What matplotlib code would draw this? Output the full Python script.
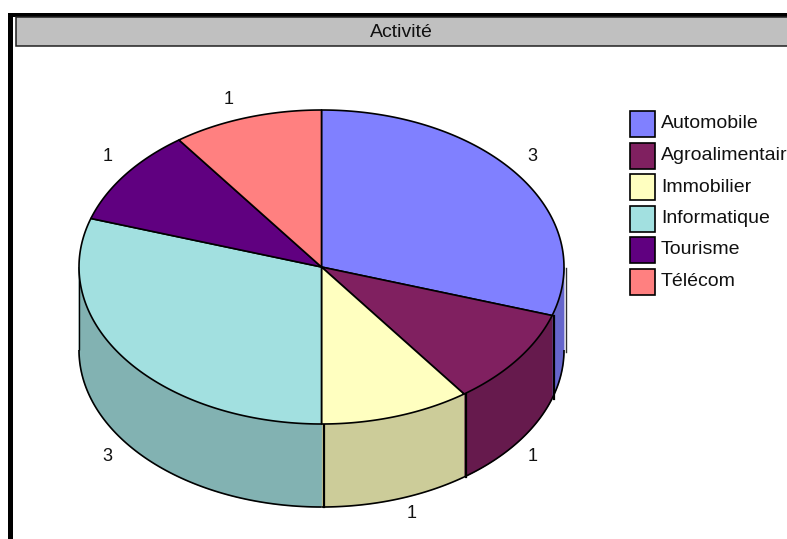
import numpy as np
import matplotlib
matplotlib.use('Agg')
import matplotlib.pyplot as plt
from matplotlib.patches import Polygon, Rectangle

names = ['Automobile', 'Agroalimentaire', 'Immobilier', 'Informatique', 'Tourisme', 'Télécom']
values = [3, 1, 1, 3, 1, 1]
top_colors = ['#8080FF', '#802060', '#FFFFC0', '#A2E0E0', '#600080', '#FF8080']
side_colors = ['#6666CC', '#661A4D', '#CCCC99', '#82B2B2', '#4D0066', '#CC6666']

plt.rcParams['font.family'] = ['Liberation Sans', 'DejaVu Sans']

# pie geometry, in pixels
cx, cy = 321.5, 267
rx, ry = 242.5, 157
depth = 83


def rim(theta, drop=0):
    # theta in degrees, clockwise from 12 o'clock
    t = np.radians(theta)
    return cx + rx * np.sin(t), cy - ry * np.cos(t) + drop


fig = plt.figure(figsize=(7.87, 5.39), dpi=100)
ax = fig.add_axes([0, 0, 1, 1])
ax.set_xlim(0, 787)
ax.set_ylim(539, 0)
ax.axis('off')

# outer frame and title bar
ax.add_patch(Rectangle((8, 13), 4.5, 530, fc='black', ec='none'))
ax.add_patch(Rectangle((8, 13), 790, 4, fc='black', ec='none'))
ax.add_patch(Rectangle((15.5, 17), 790, 29, fc='#C0C0C0', ec='#202020', lw=1.1))
ax.text(401, 32.5, 'Activité', ha='center', va='center', fontsize=14, color='#111111')

edges = np.cumsum([0] + values) / sum(values) * 360

# side walls, only the front half of the cylinder shows
for i in range(len(values)):
    a = max(edges[i], 90)
    b = min(edges[i + 1], 270)
    if a >= b:
        continue
    th = np.linspace(a, b, 80)
    xs, ys = rim(th)
    xb, yb = rim(th[::-1], depth)
    ax.add_patch(Polygon(np.column_stack([np.r_[xs, xb], np.r_[ys, yb]]),
                         fc=side_colors[i], ec=side_colors[i], lw=0.6, zorder=2))
    ax.plot(xb, yb, c='black', lw=1.2, zorder=3, solid_capstyle='butt')

# wall dividers sit slightly off the rim points
for e in edges:
    if 90 < e < 270:
        x0, y0 = rim(e)
        ax.plot([x0 + 2, x0 + 2], [y0, y0 + depth], c='black', lw=1.6, zorder=3)
xr, yr = rim(90)
ax.plot([xr + 2, xr + 2], [yr + 1, yr + 85], c='#303030', lw=1.0, zorder=3)
xl, yl = rim(270)
ax.plot([xl, xl], [yl, yl + depth], c='black', lw=1.0, zorder=3, solid_capstyle='butt')

# top face
for i in range(len(values)):
    th = np.linspace(edges[i], edges[i + 1], 120)
    xs, ys = rim(th)
    ax.add_patch(Polygon(np.column_stack([np.r_[cx, xs], np.r_[cy, ys]]),
                         fc=top_colors[i], ec='black', lw=1.2, joinstyle='round', zorder=4))

# value labels around the pie
for i, v in enumerate(values):
    mid = (edges[i] + edges[i + 1]) / 2
    front = np.cos(np.radians(mid)) < 0
    x0, y0 = rim(mid, depth if front else 0)
    dx = 15 if np.sin(np.radians(mid)) > 0 else -18
    dy = 14 if front else -18
    ax.text(x0 + dx, y0 + dy, str(v), ha='center', va='center', fontsize=13, color='#111111', zorder=5)

# legend
for i, name in enumerate(names):
    top = 111 + i * 31.5
    ax.add_patch(Rectangle((630, top), 24.5, 26, fc=top_colors[i], ec='black', lw=1.2, zorder=5))
    ax.text(661, top + 13, name, ha='left', va='center', fontsize=14, color='#111111', zorder=5)

fig.savefig('out.png', dpi=100)
